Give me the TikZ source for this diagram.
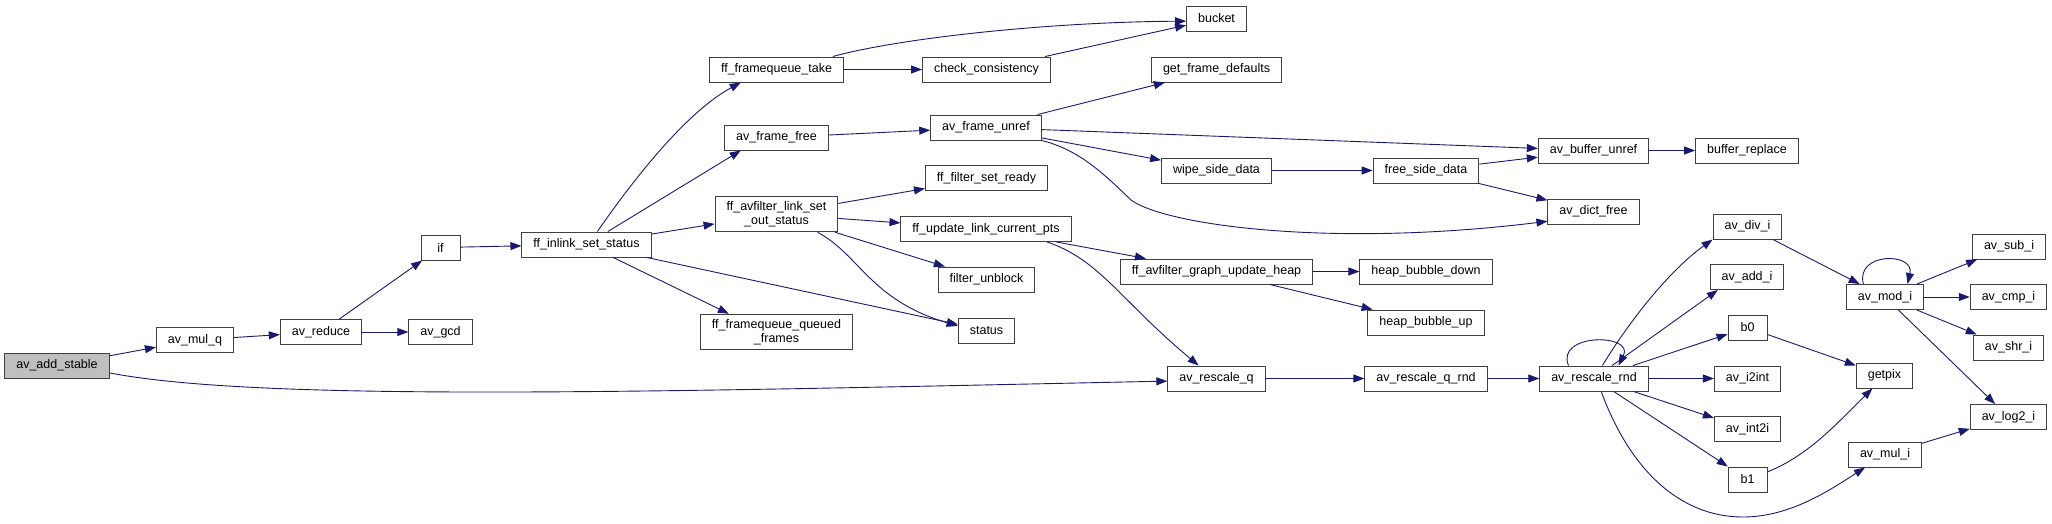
\documentclass[tikz,border=0pt]{standalone}
\usepackage{fontspec}
\setmainfont{Liberation Sans}
\usetikzlibrary{arrows.meta}
\definecolor{edgeblue}{HTML}{191970}
\definecolor{ink}{HTML}{404040}
\definecolor{rootgray}{HTML}{BFBFBF}

\begin{document}
\begin{tikzpicture}[
  x=1pt,y=-1pt,
  font=\fontsize{12.5}{14}\selectfont,
  func/.style={draw=ink,line width=1pt,fill=white,minimum height=25pt,
               minimum width=39pt,inner xsep=11.5pt,inner ysep=5pt,align=center},
  edge/.style={-{Triangle[length=11pt,width=8pt]},line width=.9pt,draw=edgeblue}
]
\fill[white] (0,0) rectangle (2052,523);
\useasboundingbox (0,0) rectangle (2052,523);

\node[func,fill=rootgray] (add) at (57,365.5) {av\_add\_stable};
\node[func] (mulq) at (195,340) {av\_mul\_q};
\node[func] (reduce) at (321,332) {av\_reduce};
\node[func] (gcd) at (440.5,332) {av\_gcd};
\node[func] (if) at (440.5,247.5) {if};
\node[func] (inlink) at (586.5,244.5) {ff\_inlink\_set\_status};
\node[func] (fqtake) at (776.5,69.5) {ff\_framequeue\_take};
\node[func] (frfree) at (776.5,137.5) {av\_frame\_free};
\node[func] (setout) at (776.5,214) {ff\_avfilter\_link\_set\\\_out\_status};
\node[func] (queued) at (776.5,332) {ff\_framequeue\_queued\\\_frames};
\node[func] (check) at (986.5,69.5) {check\_consistency};
\node[func] (frunref) at (986,127.5) {av\_frame\_unref};
\node[func] (setready) at (986.5,178) {ff\_filter\_set\_ready};
\node[func] (updpts) at (986,229) {ff\_update\_link\_current\_pts};
\node[func] (unblock) at (986.5,279.5) {filter\_unblock};
\node[func] (status) at (986.5,330.5) {status};
\node[func] (bucket) at (1216.5,18.5) {bucket};
\node[func] (getdef) at (1216.5,69.5) {get\_frame\_defaults};
\node[func] (wipe) at (1216.5,170.5) {wipe\_side\_data};
\node[func] (heap) at (1216.5,271.5) {ff\_avfilter\_graph\_update\_heap};
\node[func] (rescq) at (1216.5,378.5) {av\_rescale\_q};
\node[func] (freeside) at (1426,170.5) {free\_side\_data};
\node[func] (hdown) at (1426,271.5) {heap\_bubble\_down};
\node[func] (hup) at (1426,322.5) {heap\_bubble\_up};
\node[func] (rescqrnd) at (1426,378.5) {av\_rescale\_q\_rnd};
\node[func] (bufunref) at (1593.5,150.5) {av\_buffer\_unref};
\node[func] (dictfree) at (1593.5,211.5) {av\_dict\_free};
\node[func] (rescrnd) at (1594,378.5) {av\_rescale\_rnd};
\node[func] (bufrepl) at (1747,150.5) {buffer\_replace};
\node[func] (divi) at (1747.5,226.5) {av\_div\_i};
\node[func] (addi) at (1747,277) {av\_add\_i};
\node[func] (bzero) at (1747.5,327.5) {b0};
\node[func] (i2int) at (1747.5,378.5) {av\_i2int};
\node[func] (int2i) at (1747.5,429) {av\_int2i};
\node[func] (bone) at (1747.5,479.5) {b1};
\node[func] (modi) at (1885,297) {av\_mod\_i};
\node[func] (getpix) at (1884.5,375.5) {getpix};
\node[func] (muli) at (1885,454.5) {av\_mul\_i};
\node[func] (subi) at (2009,246.5) {av\_sub\_i};
\node[func] (cmpi) at (2008.5,297) {av\_cmp\_i};
\node[func] (shri) at (2008.5,347.5) {av\_shr\_i};
\node[func] (log2i) at (2008.5,417) {av\_log2\_i};

\draw[edge] (add) -- (mulq);
\draw[edge] (add.-8) .. controls (260,402) and (650,392) .. (rescq.183);
\draw[edge] (mulq) -- (reduce);
\draw[edge] (reduce) -- (gcd);
\draw[edge] (reduce) -- (if);
\draw[edge] (if) -- (inlink);
\draw[edge] (inlink.50) .. controls (640,170) and (690,110) .. (fqtake.200);
\draw[edge] (inlink) -- (frfree.200);
\draw[edge] (inlink) -- (setout);
\draw[edge] (inlink) -- (queued.159);
\draw[edge] (inlink) -- (status);
\draw[edge] (fqtake.13) .. controls (900,38) and (1050,22) .. (bucket.185);
\draw[edge] (fqtake) -- (check);
\draw[edge] (check) -- (bucket);
\draw[edge] (frfree) -- (frunref);
\draw[edge] (frunref) -- (getdef);
\draw[edge] (frunref) -- (bufunref);
\draw[edge] (frunref) -- (wipe);
\draw[edge] (frunref.south east) .. controls (1080,150) and (1105,175) .. (1131,200)
  .. controls (1165,225) and (1330,248) .. (dictfree.192);
\draw[edge] (wipe) -- (freeside);
\draw[edge] (freeside) -- (bufunref);
\draw[edge] (freeside) -- (dictfree);
\draw[edge] (bufunref) -- (bufrepl);
\draw[edge] (setout) -- (setready);
\draw[edge] (setout) -- (updpts);
\draw[edge] (setout) -- (unblock);
\draw[edge] (setout.-24) .. controls (860,255) and (870,300) .. (status.171);
\draw[edge] (updpts) -- (heap);
\draw[edge] (updpts.-12) .. controls (1100,260) and (1120,300) .. (rescq.144);
\draw[edge] (heap) -- (hdown);
\draw[edge] (heap) -- (hup);
\draw[edge] (rescq) -- (rescqrnd);
\draw[edge] (rescqrnd) -- (rescrnd);
\draw[edge] (rescrnd.153) .. controls (1555,333) and (1635,333) .. (rescrnd.28);
\draw[edge] (rescrnd.57) .. controls (1630,320) and (1670,270) .. (divi.south west);
\draw[edge] (rescrnd) -- (addi.204);
\draw[edge] (rescrnd) -- (bzero);
\draw[edge] (rescrnd) -- (i2int);
\draw[edge] (rescrnd) -- (int2i);
\draw[edge] (rescrnd) -- (bone);
\draw[edge] (rescrnd.-61) .. controls (1630,470) and (1680,517) .. (1743,517)
  .. controls (1790,517) and (1830,490) .. (muli.213);
\draw[edge] (divi) -- (modi);
\draw[edge] (modi.149) .. controls (1855,252) and (1915,252) .. (modi.30);
\draw[edge] (modi) -- (subi);
\draw[edge] (modi) -- (cmpi);
\draw[edge] (modi) -- (shri);
\draw[edge] (modi) -- (log2i);
\draw[edge] (bzero) -- (getpix);
\draw[edge] (bone.21) .. controls (1810,455) and (1840,420) .. (getpix.227);
\draw[edge] (muli) -- (log2i);
\end{tikzpicture}
\end{document}
